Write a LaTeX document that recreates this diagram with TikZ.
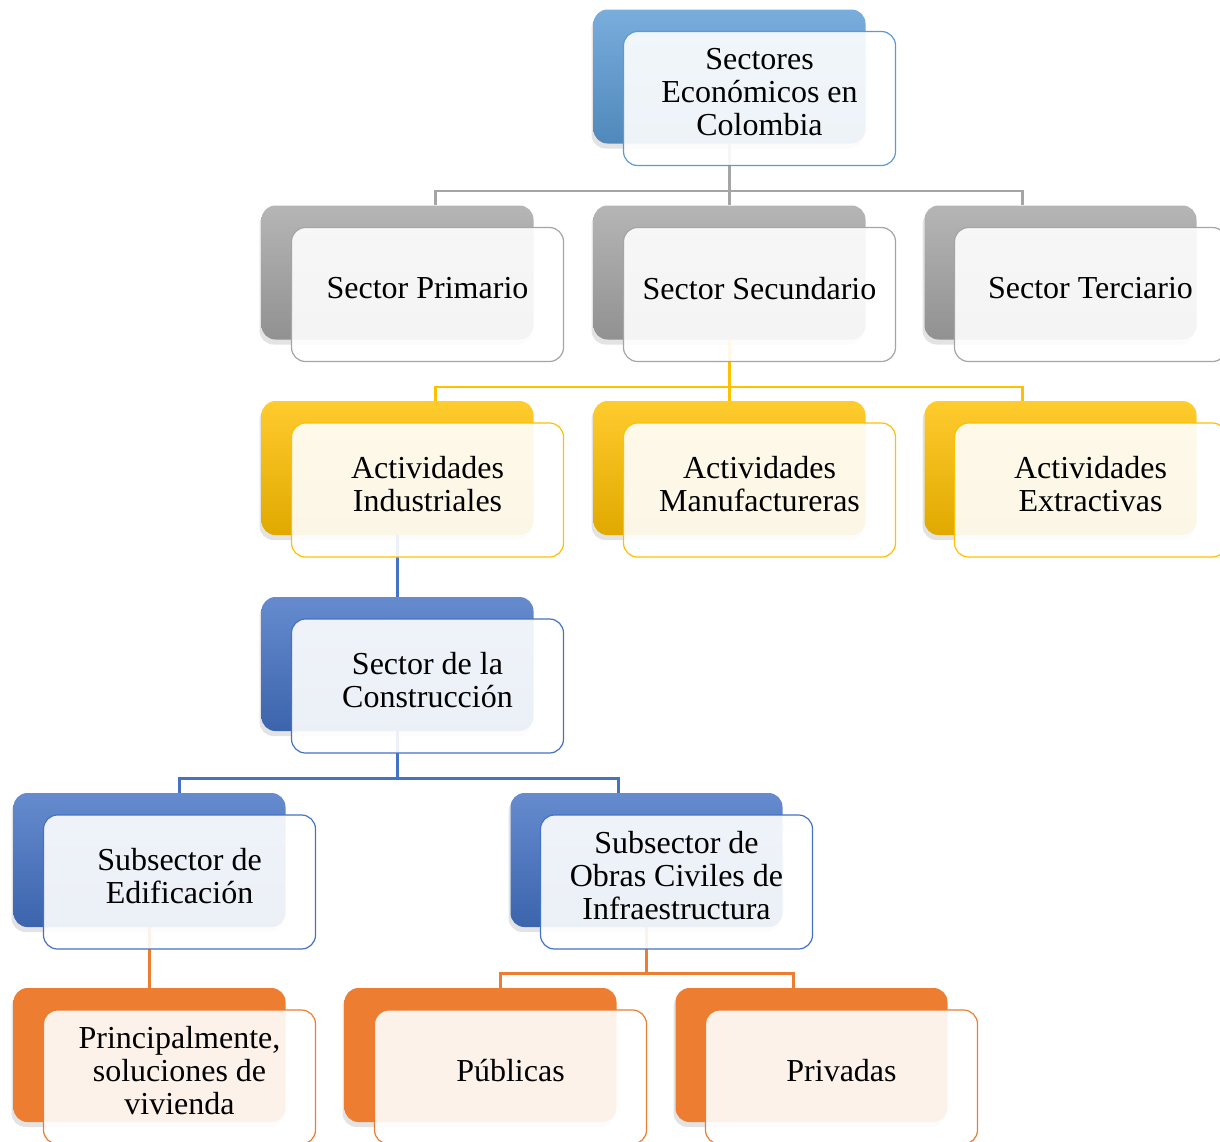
\documentclass[tikz,border=0pt]{standalone}
\usepackage{fontspec}
\setmainfont{Liberation Serif}
\usetikzlibrary{shadows}
\definecolor{cgray}{HTML}{A5A5A5}
\definecolor{cgold}{HTML}{FFC000}
\definecolor{clblue}{HTML}{5B9BD5}
\definecolor{cblue}{HTML}{4472C4}
\definecolor{corange}{HTML}{ED7D31}
\begin{document}
\begin{tikzpicture}[x=0.5pt, y=-0.5pt,
  card/.style={rounded corners=7pt, minimum width=136pt, minimum height=67pt, inner sep=0pt},
  rearbox/.style={card, draw=none, top color=#1!82!white, bottom color=#1!88!black,
    drop shadow={shadow xshift=-1pt, shadow yshift=-2.5pt, opacity=0.22}},
  facetext/.style={align=center, text opacity=1, fill opacity=1, inner sep=0pt, yshift=3pt,
    font=\fontsize{16}{16.5}\selectfont},
  facebox/.style 2 args={card, draw=#1, line width=0.6pt, fill=white, fill opacity=0.9,
    label={[facetext]center:{#2}}},
  link/.style={draw=#1, line width=1.3pt}]
  \useasboundingbox (0,0) rectangle (1220,1141);
  \def\fx{15pt}\def\fy{-11pt}
  % rear cards
  \node[rearbox=clblue] (top) at (729.5,76.5) {};
  \node[rearbox=cgray] (prim) at (397.5,272.5) {};
  \node[rearbox=cgray] (sec)  at (729.5,272.5) {};
  \node[rearbox=cgray] (ter)  at (1060.5,272.5) {};
  \node[rearbox=cgold] (ind) at (397.5,468) {};
  \node[rearbox=cgold] (man) at (729.5,468) {};
  \node[rearbox=cgold] (ext) at (1060.5,468) {};
  \node[rearbox=cblue] (con) at (397.5,664) {};
  \node[rearbox=cblue] (edi) at (149.5,860) {};
  \node[rearbox=cblue] (inf) at (646.5,860) {};
  \node[rearbox=corange, top color=corange, bottom color=corange] (viv) at (149.5,1055) {};
  \node[rearbox=corange, top color=corange, bottom color=corange] (pub) at (480.5,1055) {};
  \node[rearbox=corange, top color=corange, bottom color=corange] (pri) at (811.5,1055) {};
  % connectors
  \draw[link=cgray] (top.south) -- ++(0,47) -| ([xshift=19pt]prim.north);
  \draw[link=cgray] (top.south) -- (sec.north);
  \draw[link=cgray] (top.south) -- ++(0,47) -| ([xshift=-19pt]ter.north);
  \draw[link=cgold] (sec.south) -- ++(0,47) -| ([xshift=19pt]ind.north);
  \draw[link=cgold] (sec.south) -- (man.north);
  \draw[link=cgold] (sec.south) -- ++(0,47) -| ([xshift=-19pt]ext.north);
  \draw[link=cblue] (ind.south) -- (con.north);
  \draw[link=cblue] (con.south) -- ++(0,47) -| ([xshift=15pt]edi.north);
  \draw[link=cblue] (con.south) -- ++(0,47) -| ([xshift=-14pt]inf.north);
  \draw[link=corange] (edi.south) -- (viv.north);
  \draw[link=corange] (inf.south) -- ++(0,46) -| ([xshift=10pt]pub.north);
  \draw[link=corange] (inf.south) -- ++(0,46) -| ([xshift=-9pt]pri.north);
  % front cards
  \node[facebox={clblue}{Sectores\\Económicos en\\Colombia}] (topf) at ([xshift=\fx,yshift=\fy]top.center) {};
  \node[facebox={cgray}{Sector Primario}] (primf) at ([xshift=\fx,yshift=\fy]prim.center) {};
  \node[facebox={cgray}{Sector Secundario}] (secf) at ([xshift=\fx,yshift=\fy]sec.center) {};
  \node[facebox={cgray}{Sector Terciario}] (terf) at ([xshift=\fx,yshift=\fy]ter.center) {};
  \node[facebox={cgold}{Actividades\\Industriales}] (indf) at ([xshift=\fx,yshift=\fy]ind.center) {};
  \node[facebox={cgold}{Actividades\\Manufactureras}] (manf) at ([xshift=\fx,yshift=\fy]man.center) {};
  \node[facebox={cgold}{Actividades\\Extractivas}] (extf) at ([xshift=\fx,yshift=\fy]ext.center) {};
  \node[facebox={cblue}{Sector de la\\Construcción}] (conf) at ([xshift=\fx,yshift=\fy]con.center) {};
  \node[facebox={cblue}{Subsector de\\Edificación}] (edif) at ([xshift=\fx,yshift=\fy]edi.center) {};
  \node[facebox={cblue}{Subsector de\\Obras Civiles de\\Infraestructura}] (inff) at ([xshift=\fx,yshift=\fy]inf.center) {};
  \node[facebox={corange}{Principalmente,\\soluciones de\\vivienda}] (vivf) at ([xshift=\fx,yshift=\fy]viv.center) {};
  \node[facebox={corange}{Públicas}] (pubf) at ([xshift=\fx,yshift=\fy]pub.center) {};
  \node[facebox={corange}{Privadas}] (prif) at ([xshift=\fx,yshift=\fy]pri.center) {};
\end{tikzpicture}
\end{document}
